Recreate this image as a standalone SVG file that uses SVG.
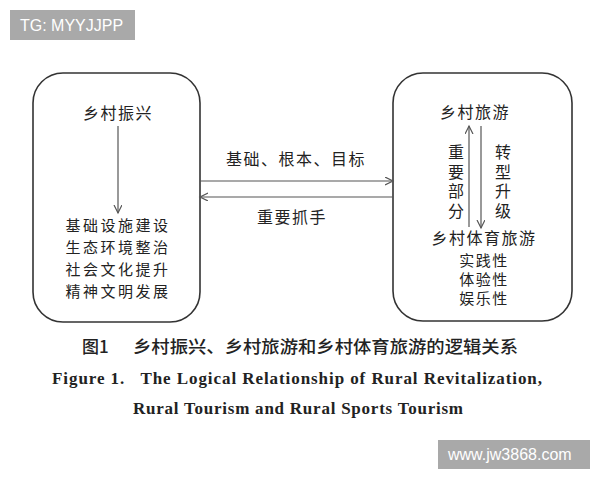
<svg xmlns="http://www.w3.org/2000/svg" width="600" height="480" viewBox="0 0 600 480">
<style>
.box{fill:#fff;stroke:#333;stroke-width:1.6}
.t{font-family:"Noto Sans CJK SC","Noto Sans CJK JP",sans-serif;font-size:16px;fill:#222;text-anchor:middle;letter-spacing:1.5px}
.l{font-size:15px;letter-spacing:2.5px}
.v{font-family:"Noto Sans CJK SC","Noto Sans CJK JP",sans-serif;font-size:16px;fill:#222;writing-mode:vertical-rl;letter-spacing:3.5px}
.s{font-size:15px}
.cn{font-family:"Noto Sans CJK SC",sans-serif;font-size:17px;fill:#222;font-weight:500}
.en{font-family:"Liberation Serif","Times New Roman",serif;font-size:17px;font-weight:bold;fill:#222}
.ln{stroke:#555;stroke-width:1.2;fill:none}
.wm{fill:#a9a9a9}
.wt{font-family:"Liberation Sans",Arial,sans-serif;font-size:16px;fill:#fff}
</style>
<defs>
<marker id="ah" markerUnits="userSpaceOnUse" markerWidth="10" markerHeight="10" refX="8" refY="4" orient="auto">
<path d="M0,0 L8,4 L0,8" fill="none" stroke="#555" stroke-width="1.2"/>
</marker>
</defs>
<rect width="600" height="480" fill="#fff"/>
<g id="watermark-top">
<rect class="wm" x="10" y="10" width="125" height="30"/>
<text class="wt" x="20" y="31">TG: MYYJJPP</text>
</g>
<g id="node-rural-revitalization">
<rect class="box" x="33" y="73" width="167" height="249" rx="30"/>
<text class="t" x="118" y="119">乡村振兴</text>
<text class="t l" x="118" y="231">基础设施建设</text>
<text class="t l" x="118" y="253">生态环境整治</text>
<text class="t l" x="118" y="275">社会文化提升</text>
<text class="t l" x="118" y="297">精神文明发展</text>
</g>
<g id="node-rural-tourism">
<rect class="box" x="393" y="73" width="179" height="248" rx="30"/>
<text class="t" x="475" y="118">乡村旅游</text>
<text class="v" x="456" y="144">重要部分</text>
<text class="v" x="503" y="144">转型升级</text>
<text class="t" x="484" y="244">乡村体育旅游</text>
<text class="t s" x="484" y="266">实践性</text>
<text class="t s" x="484" y="285">体验性</text>
<text class="t s" x="484" y="304">娱乐性</text>
</g>
<g id="connectors">
<line class="ln" x1="118" y1="126" x2="118" y2="213" marker-end="url(#ah)"/>
<line class="ln" x1="469" y1="227" x2="469" y2="126" marker-end="url(#ah)"/>
<line class="ln" x1="481" y1="126" x2="481" y2="228" marker-end="url(#ah)"/>
<line class="ln" x1="200" y1="181" x2="393" y2="181" marker-end="url(#ah)"/>
<line class="ln" x1="393" y1="197" x2="200" y2="197" marker-end="url(#ah)"/>
<text class="t" x="296" y="165">基础、根本、目标</text>
<text class="t" x="292" y="223">重要抓手</text>
</g>
<g id="caption">
<text class="cn" x="82" y="353">图1</text>
<text class="cn" x="133" y="353" textLength="385" lengthAdjust="spacingAndGlyphs">乡村振兴、乡村旅游和乡村体育旅游的逻辑关系</text>
<text class="en" x="52" y="384" textLength="490" lengthAdjust="spacing" xml:space="preserve">Figure 1.   The Logical Relationship of Rural Revitalization,</text>
<text class="en" x="133" y="414" textLength="330" lengthAdjust="spacing">Rural Tourism and Rural Sports Tourism</text>
</g>
<g id="watermark-bottom">
<rect class="wm" x="438" y="440" width="152" height="29"/>
<text class="wt" x="448" y="460">www.jw3868.com</text>
</g>
</svg>
